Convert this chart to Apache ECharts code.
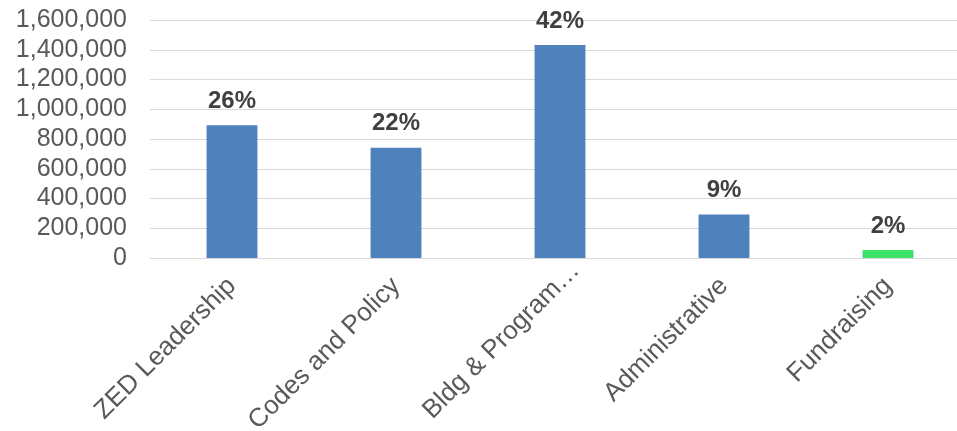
<!DOCTYPE html>
<html>
<head>
<meta charset="utf-8">
<script src="https://cdn.jsdelivr.net/npm/echarts@6/dist/echarts.min.js"></script>
<style>
html,body{margin:0;padding:0;background:#fff;}
#c{width:957px;height:431px;}
</style>
</head>
<body>
<div id="c"></div>
<script>
var categories = ["ZED Leadership", "Codes and Policy", "Bldg & Program\u2026", "Administrative", "Fundraising"];
var values = [892000, 742000, 1432000, 292000, 54000];
var percentLabels = ["26%", "22%", "42%", "9%", "2%"];
var barColors = ["#4F81BD", "#4F81BD", "#4F81BD", "#4F81BD", "#3AE26A"];

var chart = echarts.init(document.getElementById('c'), null, {renderer: 'canvas'});
var font = '"Liberation Sans", Arial, sans-serif';
chart.setOption({
  animation: false,
  grid: {left: 150, top: 20, right: -13, bottom: 173, containLabel: false, outerBoundsMode: 'none'},
  xAxis: {
    type: 'category',
    data: categories.map(function (c, i) {
      return i === 2 ? {value: c, textStyle: {padding: [0, -22, 0, 0]}} : c;
    }),
    axisLine: {show: true, lineStyle: {color: '#D9D9D9', width: 1}},
    axisTick: {show: false},
    axisLabel: {
      rotate: 45, interval: 0, margin: 24,
      color: '#595959', fontSize: 26, fontFamily: font
    }
  },
  yAxis: {
    type: 'value',
    min: 0, max: 1600000, interval: 200000,
    axisLine: {show: false},
    axisTick: {show: false},
    splitLine: {lineStyle: {color: '#D9D9D9', width: 1}},
    axisLabel: {
      margin: 23, color: '#595959', fontSize: 25, fontFamily: font,
      formatter: function (v) { return v.toLocaleString('en-US'); }
    }
  },
  series: [{
    type: 'bar',
    barWidth: '31%',
    data: values.map(function (v, i) {
      return {value: v, itemStyle: {color: barColors[i]}};
    }),
    label: {
      show: true, position: 'top', distance: 12,
      color: '#404040', fontSize: 24, fontWeight: 'bold', fontFamily: font,
      formatter: function (p) { return percentLabels[p.dataIndex]; }
    }
  }]
});
</script>
</body>
</html>
